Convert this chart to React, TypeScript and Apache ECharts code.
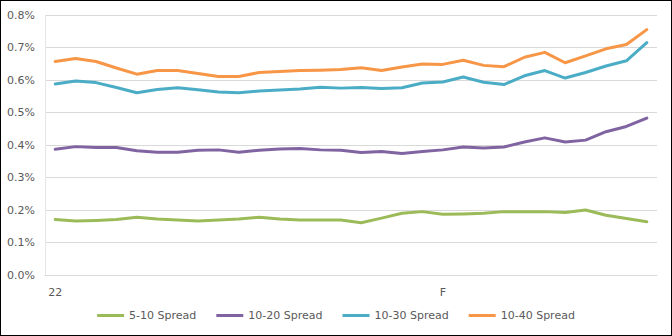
import React, { useEffect, useRef } from "react";
import * as echarts from "echarts";

const tickLabels = [
  "22", "", "", "", "", "", "", "", "", "", "", "", "", "", "", "",
  "", "", "", "F", "", "", "", "", "", "", "", "", "", "",
];
const categories = tickLabels.map((_, i) => "p" + (i + 1));

const seriesNames = ["5-10 Spread", "10-20 Spread", "10-30 Spread", "10-40 Spread"];
const colors = ["#9bbb59", "#8064a2", "#4bacc6", "#f79646"];

const spread5_10 = [
  0.171, 0.166, 0.168, 0.171, 0.178, 0.172, 0.169, 0.166, 0.169, 0.172,
  0.178, 0.172, 0.169, 0.169, 0.169, 0.161, 0.175, 0.19, 0.195, 0.187,
  0.188, 0.19, 0.195, 0.195, 0.195, 0.192, 0.2, 0.184, 0.174, 0.164,
];
const spread10_20 = [
  0.387, 0.395, 0.392, 0.392, 0.382, 0.378, 0.378, 0.384, 0.385, 0.378,
  0.384, 0.388, 0.389, 0.385, 0.384, 0.377, 0.38, 0.374, 0.38, 0.385,
  0.394, 0.391, 0.394, 0.409, 0.422, 0.409, 0.415, 0.441, 0.457, 0.483,
];
const spread10_30 = [
  0.588, 0.597, 0.592, 0.577, 0.561, 0.571, 0.576, 0.57, 0.563, 0.561,
  0.566, 0.569, 0.572, 0.578, 0.575, 0.577, 0.574, 0.576, 0.591, 0.594,
  0.609, 0.593, 0.586, 0.613, 0.629, 0.606, 0.623, 0.643, 0.659, 0.715,
];
const spread10_40 = [
  0.657, 0.666, 0.657, 0.637, 0.618, 0.629, 0.629, 0.62, 0.611, 0.611,
  0.623, 0.626, 0.629, 0.63, 0.632, 0.638, 0.629, 0.64, 0.649, 0.648,
  0.661, 0.645, 0.641, 0.67, 0.685, 0.653, 0.674, 0.696, 0.709, 0.755,
];
const allSeries = [spread5_10, spread10_20, spread10_30, spread10_40];

const FONT = "DejaVu Sans";

export default function App() {
  const ref = useRef<HTMLDivElement>(null);
  useEffect(() => {
    if (!ref.current) return;
    const chart = echarts.init(ref.current, null, { renderer: "svg" });
    chart.setOption({
      animation: false,
      backgroundColor: "#ffffff",
      grid: { left: 45, right: 15, top: 15, bottom: 61, containLabel: false },
      legend: {
        data: seriesNames,
        bottom: 10,
        left: "center",
        icon: "rect",
        itemWidth: 27,
        itemHeight: 3,
        itemGap: 20,
        textStyle: { color: "#595959", fontSize: 11, fontFamily: FONT },
      },
      xAxis: {
        type: "category",
        data: categories,
        boundaryGap: true,
        axisLine: { show: true, lineStyle: { color: "#d9d9d9", width: 1 } },
        axisTick: { show: false },
        axisLabel: {
          interval: 0,
          margin: 12,
          color: "#595959",
          fontSize: 11,
          fontFamily: FONT,
          formatter: (_v: string, i: number) => tickLabels[i],
        },
        splitLine: { show: false },
      },
      yAxis: {
        type: "value",
        min: 0,
        max: 0.8,
        interval: 0.1,
        axisLine: { show: true, lineStyle: { color: "#e6e6e6", width: 1 } },
        axisTick: { show: false },
        axisLabel: {
          margin: 10,
          color: "#595959",
          fontSize: 11,
          fontFamily: FONT,
          formatter: (v: number) => v.toFixed(1) + "%",
        },
        splitLine: { show: true, lineStyle: { color: "#d9d9d9", width: 1 } },
      },
      series: allSeries.map((d, k) => ({
        name: seriesNames[k],
        type: "line",
        data: d,
        symbol: "none",
        showSymbol: false,
        smooth: false,
        color: colors[k],
        lineStyle: { color: colors[k], width: 3, cap: "round", join: "round" },
      })),
    });
    return () => chart.dispose();
  }, []);
  return (
    <div style={{ position: "fixed", left: 0, top: 0, width: 672, height: 336 }}>
      <div ref={ref} style={{ width: 672, height: 336 }} />
      <div
        style={{
          position: "absolute",
          left: 0,
          top: 0,
          width: 672,
          height: 336,
          boxSizing: "border-box",
          border: "1px solid #000",
          pointerEvents: "none",
        }}
      />
    </div>
  );
}
